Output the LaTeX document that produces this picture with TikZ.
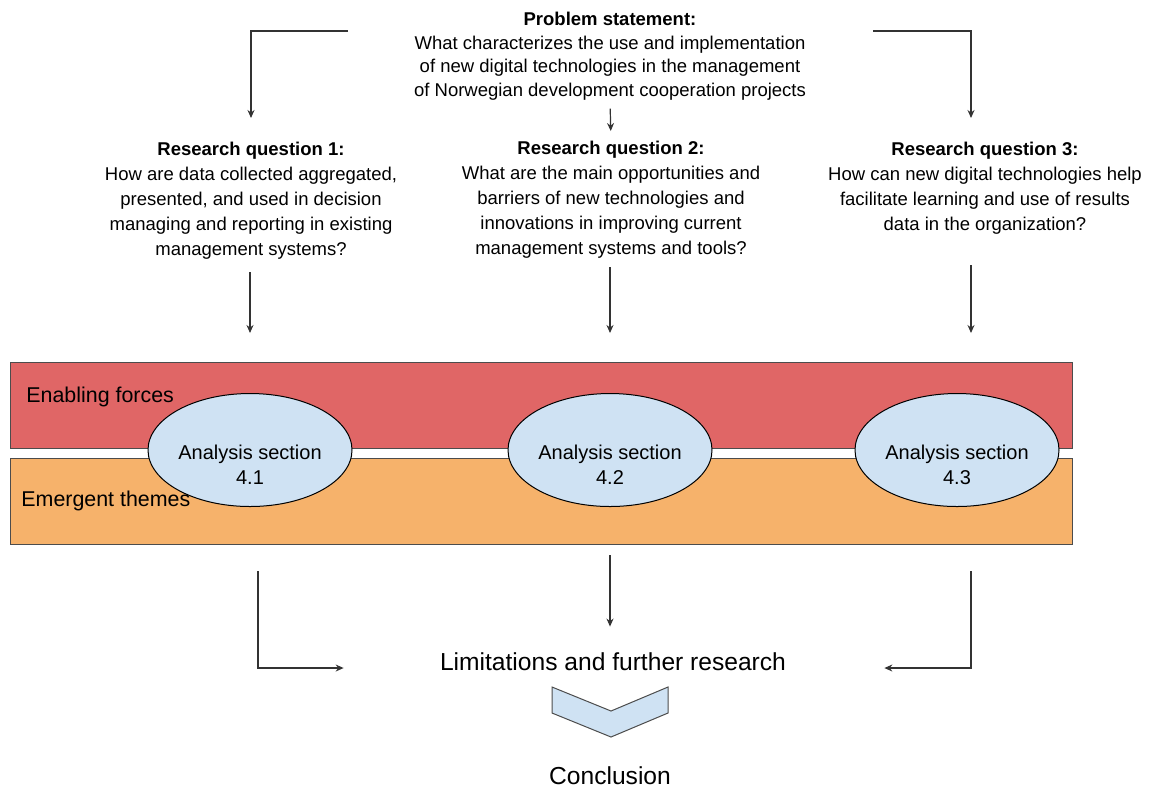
\documentclass[tikz,border=0pt]{standalone}
\usepackage{fontspec}
\setmainfont{Liberation Sans}
\usetikzlibrary{arrows.meta,shapes.geometric}
\definecolor{enablered}{HTML}{E06666}
\definecolor{emergeorange}{HTML}{F6B26B}
\definecolor{sectionblue}{HTML}{CFE2F3}

\begin{document}
\begin{tikzpicture}[x=0.5pt, y=-0.5pt,
    arr/.style = {-{Stealth[length=4pt,width=3.5pt]}, line width=0.6pt, black!80},
    txt/.style = {align=center, inner sep=0pt, anchor=north, font=\fontsize{9.25}{12.5}\selectfont},
    band/.style = {draw=black!70, line width=0.5pt, anchor=north west, inner sep=0pt,
                   minimum width=531pt, minimum height=43pt},
    bandtxt/.style = {anchor=west, inner sep=0pt, font=\fontsize{10.7}{13}\selectfont},
    sec/.style = {ellipse, draw=black, fill=sectionblue, line width=0.5pt, inner sep=0pt,
                  minimum width=102pt, minimum height=56.5pt},
    sectxt/.style = {align=center, inner sep=0pt, anchor=north, font=\fontsize{10}{12.5}\selectfont},
    big/.style = {inner sep=0pt, font=\fontsize{12.3}{15}\selectfont}]
    \useasboundingbox (0,0) rectangle (1160,789);

    % problem statement and research questions
    \node[txt, font=\fontsize{9.25}{11.75}\selectfont] (ps) at (610,12)
        {\textbf{Problem statement:}\\What characterizes the use and implementation\\of new digital technologies in the management\\of Norwegian development cooperation projects};
    \node[txt] (rq1) at (251,142)
        {\textbf{Research question 1:}\\How are data collected aggregated,\\presented, and used in decision\\managing and reporting in existing\\management systems?};
    \node[txt] (rq2) at (611,141)
        {\textbf{Research question 2:}\\What are the main opportunities and\\barriers of new technologies and\\innovations in improving current\\management systems and tools?};
    \node[txt] (rq3) at (985,142)
        {\textbf{Research question 3:}\\How can new digital technologies help\\facilitate learning and use of results\\data in the organization?};

    \coordinate (psL) at (348,31);
    \coordinate (psR) at (873,31);
    \draw[arr, shorten >=12pt] (psL) -| (rq1.north);
    \draw[arr, shorten >=12pt] (psR) -| ([xshift=-7pt]rq3.north);
    \draw[arr, shorten <=4pt, shorten >=5pt] (ps.south) -- (rq2.north);

    % bands
    \node[band, fill=enablered] (enabling) at (10,362) {};
    \node[band, fill=emergeorange] (emergent) at (10,458) {};
    \node[bandtxt] (enlabel) at (26,397) {Enabling forces};
    \node[bandtxt] (emlabel) at (21,501) {Emergent themes};

    \draw[arr, shorten <=6pt, shorten >=14.5pt] ([xshift=-0.5pt]rq1.south) -- ([xshift=-0.5pt]rq1.south |- enabling.north);
    \draw[arr, shorten <=4pt, shorten >=14.5pt] ([xshift=-0.5pt]rq2.south) -- ([xshift=-0.5pt]rq2.south |- enabling.north);
    \draw[arr, shorten <=15pt, shorten >=14.5pt] ([xshift=-7pt]rq3.south) -- ([xshift=-7pt]rq3.south |- enabling.north);

    % analysis sections
    \node[sec] (as1) at (250,450) {};
    \node[sec] (as2) at (610,450) {};
    \node[sec] (as3) at (957,450) {};
    \node[sectxt] (as1txt) at ([yshift=2.5pt]as1.center) {Analysis section\\4.1};
    \node[sectxt] (as2txt) at ([yshift=2.5pt]as2.center) {Analysis section\\4.2};
    \node[sectxt] (as3txt) at ([yshift=2.5pt]as3.center) {Analysis section\\4.3};

    % limitations and conclusion
    \node[big] (lim) at (613,662) {Limitations and further research};
    \node[big] (concl) at (610,776) {Conclusion};

    \draw[arr, shorten <=13pt, shorten >=48pt] ([xshift=4pt]as1.south |- emergent.south) |- ([yshift=-3pt]lim.west);
    \draw[arr, shorten <=5pt, shorten >=13pt] (as2.south |- emergent.south) -- (as2.south |- lim.north);
    \draw[arr, shorten <=13pt, shorten >=49pt] ([xshift=-7pt]rq3.south |- emergent.south) |- ([yshift=-3pt]lim.east);

    \draw[black!70, line width=0.5pt, fill=sectionblue]
        (552,687) -- (611,711) -- (668,687) -- (668,713) -- (611,737) -- (552,713) -- cycle;
\end{tikzpicture}
\end{document}
